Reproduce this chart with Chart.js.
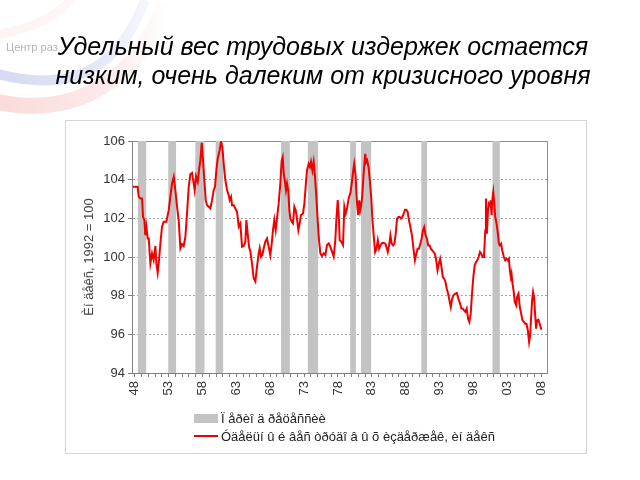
<!DOCTYPE html>
<html><head><meta charset="utf-8">
<script src="https://cdn.jsdelivr.net/npm/chart.js@4.4.1/dist/chart.umd.min.js"></script>
<style>html,body{margin:0;padding:0;background:#fff}canvas{display:block}</style>
</head><body>
<canvas id="c" width="640" height="480"></canvas>
<script>
const titleLines = ['Удельный вес трудовых издержек остается', 'низким, очень далеким от кризисного уровня'];
const logoText = 'Центр раз';
const yAxisTitle = 'Èí äåêñ, 1992 = 100';
const recessionLabel = 'Ï åðèî ä ðåöåññèè';
const seriesLabel = 'Óäåëüí û é âåñ òðóäî â û õ èçäåðæåê, èí äåêñ';
const yMin = 94, yMax = 106, yStep = 2;
const xMin = 1947.6, xMax = 2008.85;
const labelEvery = 5, firstLabelYear = 1948;

const recessionStart = [1948.45, 1952.95, 1956.95, 1959.95, 1969.6, 1973.55, 1979.8, 1981.4, 1990.3, 2000.8];
const recessionEnd   = [1949.7, 1954.1, 1958.3, 1961.05, 1970.9, 1975.05, 1980.65, 1982.9, 1991.15, 2001.9];

const years = [
1947.75,1948.44,1948.59,1948.84,1949.08,1949.23,1949.43,1949.57,1949.72,1949.92,
1950.07,1950.21,1950.31,1950.56,1950.8,1951.05,1951.2,1951.39,1951.59,1951.79,
1952.03,1952.28,1952.67,1953.02,1953.26,1953.51,1953.76,1954.0,1954.25,1954.49,
1954.74,1954.98,1955.23,1955.48,1955.72,1955.97,1956.21,1956.46,1956.71,1956.85,
1957.05,1957.3,1957.49,1957.69,1957.89,1958.08,1958.28,1958.48,1958.67,1958.92,
1959.17,1959.41,1959.66,1959.85,1960.05,1960.25,1960.54,1960.74,1960.94,1961.13,
1961.38,1961.63,1961.87,1962.02,1962.22,1962.36,1962.61,1962.85,1963.1,1963.35,
1963.59,1963.84,1964.08,1964.33,1964.48,1964.67,1964.87,1965.07,1965.31,1965.56,
1965.81,1966.05,1966.3,1966.45,1966.64,1966.84,1967.04,1967.28,1967.53,1967.72,
1968.02,1968.22,1968.41,1968.61,1968.81,1969.0,1969.25,1969.49,1969.69,1969.84,
1969.99,1970.18,1970.33,1970.48,1970.68,1970.82,1970.97,1971.17,1971.36,1971.56,
1971.76,1971.95,1972.15,1972.35,1972.54,1972.84,1973.04,1973.23,1973.43,1973.68,
1973.87,1974.02,1974.22,1974.41,1974.61,1974.81,1975.0,1975.2,1975.4,1975.64,
1975.89,1976.14,1976.38,1976.63,1976.87,1977.12,1977.37,1977.61,1977.76,1977.96,
1978.15,1978.25,1978.5,1978.74,1978.94,1979.14,1979.33,1979.58,
1979.86,1980.06,1980.25,1980.4,1980.6,1980.74,1980.84,1980.99,1981.13,1981.28,
1981.43,1981.57,1981.82,1982.02,1982.16,1982.31,1982.51,1982.7,1982.9,1983.09,
1983.29,1983.48,1983.68,1983.88,1984.07,1984.27,1984.51,1984.76,1985.0,1985.15,
1985.35,1985.54,1985.74,1985.93,1986.13,1986.33,1986.52,1986.72,1986.91,1987.11,
1987.3,1987.5,1987.7,1987.89,1988.09,1988.28,1988.48,1988.68,1988.92,1989.17,
1989.36,1989.56,1989.75,1989.95,1990.15,1990.34,1990.54,1990.73,1990.93,1991.12,
1991.32,1991.52,1991.71,1991.91,1992.1,1992.3,1992.5,1992.69,1992.89,1993.08,
1993.28,1993.47,1993.67,1993.87,1994.06,1994.26,1994.45,1994.65,1994.85,1995.04,
1995.29,1995.53,1995.78,1996.02,1996.22,1996.41,1996.61,1996.8,1997.0,1997.2,
1997.39,1997.59,1997.78,1997.98,1998.18,1998.37,1998.57,1998.76,1998.96,1999.16,
1999.35,1999.55,1999.74,1999.84,1999.99,2000.14,2000.28,2000.43,2000.53,2000.67,
2000.82,2000.92,2001.07,2001.21,2001.41,2001.6,2001.75,2001.9,2002.09,2002.24,
2002.49,2002.68,2002.88,2003.07,2003.22,2003.37,2003.51,2003.61,2003.76,2003.91,
2004.1,2004.3,2004.44,2004.64,2004.84,2005.03,2005.23,2005.43,2005.62,2005.82,
2006.02,2006.21,2006.36,2006.51,2006.65,2006.8,2006.94,2007.09,2007.24,2007.38,
2007.58,2007.77,2007.97,2008.12
];
const laborCost = [
103.63,103.63,103.11,103.03,103.03,102.08,101.91,101.13,101.57,100.96,
100.96,100.19,99.67,100.19,99.85,100.57,99.67,99.19,99.85,100.7,
101.57,101.82,101.82,102.42,103.11,103.8,104.14,103.46,102.6,101.91,
100.45,100.67,100.57,101.05,102.25,103.63,104.28,104.35,103.8,103.46,
104.18,103.89,104.49,105.0,105.9,105.0,103.97,102.94,102.68,102.6,
102.51,102.94,103.46,103.63,104.49,105.09,105.52,105.95,105.69,104.83,
103.97,103.46,103.2,102.94,103.11,102.68,102.68,102.51,102.34,101.57,
101.74,100.53,100.57,100.79,101.91,101.22,100.53,100.28,99.67,98.9,
98.73,99.5,100.19,100.45,100.02,100.1,100.45,100.79,100.96,100.62,
100.1,100.7,101.39,101.91,101.39,101.99,102.77,103.8,105.0,105.17,
104.32,103.89,103.46,103.8,103.37,102.42,101.99,101.82,101.74,102.6,
102.42,101.99,101.39,101.74,102.17,102.25,102.77,103.63,104.49,104.83,
104.66,104.92,104.49,104.92,104.14,103.11,101.91,100.88,100.19,100.05,
100.19,100.1,100.62,100.7,100.53,100.28,100.02,100.88,101.91,102.94,
101.91,100.88,100.79,100.62,102.6,102.25,102.51,103.03,
103.36,103.88,104.48,104.83,104.22,103.19,102.67,102.16,102.93,102.41,
102.67,103.1,104.48,105.34,104.91,105.0,104.66,103.97,103.1,101.9,
101.03,100.26,100.43,100.86,100.43,100.6,100.72,100.72,100.69,100.52,
100.26,100.6,101.12,100.69,100.6,100.69,101.21,101.98,102.07,102.07,
101.98,102.07,102.24,102.45,102.45,102.33,101.9,101.55,101.12,100.34,
99.83,100.17,100.43,100.43,100.69,100.95,101.38,101.55,101.12,100.95,
100.6,100.6,100.43,100.34,100.26,100.17,99.83,99.31,99.66,99.91,
99.48,98.97,98.88,98.71,98.36,98.1,97.76,97.41,97.84,98.02,
98.1,98.14,97.84,97.59,97.33,97.33,97.24,97.16,97.33,96.81,
96.64,97.07,98.1,98.97,99.57,99.74,99.83,100.0,100.26,100.17,
100.0,100.0,101.38,103.02,101.21,102.41,102.76,102.67,102.93,102.16,
103.1,103.36,102.76,102.07,101.72,101.21,100.69,100.6,100.69,100.34,
100.0,99.83,99.91,99.83,99.91,99.31,98.97,99.14,98.62,98.28,
97.67,97.5,97.93,98.1,97.41,97.07,96.72,96.64,96.55,96.55,
96.21,95.6,95.95,96.9,97.76,98.19,97.93,97.07,96.29,96.72,
96.76,96.55,96.29,96.29
];

const FONT = '"Liberation Sans", Arial, sans-serif';

// recession shading as a filled step line built from the start/end arrays
const recessionData = [];
recessionStart.forEach((s, i) => {
  recessionData.push({x: s, y: yMin}, {x: s, y: yMax}, {x: recessionEnd[i], y: yMax}, {x: recessionEnd[i], y: yMin});
});
const lineData = years.map((x, i) => ({x, y: laborCost[i]}));

const decorPlugin = {
  id: 'decor',
  beforeDraw(chart) {
    const ctx = chart.ctx;
    ctx.save();
    ctx.fillStyle = '#fff';
    ctx.fillRect(0, 0, chart.width, chart.height);
    // faint logo swooshes
    const fade = (r, g, b, a) => {
      const gr = ctx.createLinearGradient(0, 0, 170, 0);
      gr.addColorStop(0, `rgba(${r},${g},${b},${a})`);
      gr.addColorStop(0.6, `rgba(${r},${g},${b},${a * 0.6})`);
      gr.addColorStop(1, `rgba(${r},${g},${b},0)`);
      return gr;
    };
    ctx.lineCap = 'butt';
    ctx.lineWidth = 16;
    ctx.strokeStyle = fade(235, 90, 90, 0.22);
    ctx.beginPath(); ctx.moveTo(-10, 100); ctx.bezierCurveTo(60, 118, 130, 95, 165, 5); ctx.stroke();
    ctx.lineWidth = 10;
    ctx.strokeStyle = fade(80, 100, 200, 0.24);
    ctx.beginPath(); ctx.moveTo(-10, 72); ctx.bezierCurveTo(60, 92, 115, 80, 145, 0); ctx.stroke();
    ctx.lineWidth = 9;
    ctx.strokeStyle = fade(235, 110, 110, 0.08);
    ctx.beginPath(); ctx.moveTo(-5, 35); ctx.bezierCurveTo(30, 30, 60, 15, 75, -5); ctx.stroke();
    ctx.fillStyle = '#b4b4b4';
    ctx.font = '11px ' + FONT;
    ctx.textBaseline = 'middle';
    ctx.fillText(logoText, 6, 48);
    // outer chart frame
    ctx.strokeStyle = '#d4d4d4';
    ctx.lineWidth = 1;
    ctx.strokeRect(65.5, 120.5, 521, 333);
    ctx.restore();
  },
  beforeDatasetsDraw(chart) {
    const {ctx, chartArea: a} = chart;
    ctx.save();
    ctx.strokeStyle = '#8c8c8c';
    ctx.lineWidth = 1;
    ctx.beginPath();
    ctx.moveTo(a.left, Math.round(a.top) + 0.5);
    ctx.lineTo(Math.round(a.right) + 0.5, Math.round(a.top) + 0.5);
    ctx.lineTo(Math.round(a.right) + 0.5, a.bottom);
    ctx.stroke();
    ctx.restore();
  },
  afterDraw(chart) {
    const ctx = chart.ctx;
    const ds = chart.data.datasets;
    ctx.save();
    ctx.font = '13px ' + FONT;
    ctx.textBaseline = 'middle';
    ctx.fillStyle = ds[1].backgroundColor;
    ctx.fillRect(194, 414, 24, 9);
    ctx.strokeStyle = ds[0].borderColor;
    ctx.lineWidth = 2;
    ctx.beginPath(); ctx.moveTo(194, 436); ctx.lineTo(218, 436); ctx.stroke();
    ctx.fillStyle = '#222';
    ctx.fillText(ds[1].label, 221, 419);
    ctx.fillText(ds[0].label, 221, 437);
    ctx.restore();
  }
};

new Chart(document.getElementById('c'), {
  type: 'line',
  data: {
    datasets: [
      {label: seriesLabel, data: lineData, borderColor: '#f00000', borderWidth: 2, pointRadius: 0, tension: 0, fill: false, order: 0},
      {label: recessionLabel, data: recessionData, borderWidth: 0, borderColor: 'rgba(0,0,0,0)', backgroundColor: '#c3c3c3', pointRadius: 0, tension: 0, fill: 'start', order: 1}
    ]
  },
  options: {
    responsive: false,
    animation: false,
    devicePixelRatio: 1,
    layout: {padding: {left: 6, right: 0, top: 0, bottom: 77}},
    plugins: {
      legend: {display: false},
      tooltip: {enabled: false},
      title: {
        display: true, text: titleLines, color: '#000',
        font: {family: FONT, size: 25, style: 'italic', weight: 'normal', lineHeight: 1.15},
        padding: {top: 33.6, bottom: 49.9}
      }
    },
    scales: {
      x: {
        type: 'linear', min: xMin, max: xMax,
        ticks: {
          stepSize: 1, includeBounds: false, autoSkip: false, maxRotation: 90, minRotation: 90,
          color: '#333', font: {family: FONT, size: 13}, padding: 4,
          callback: v => ((Math.round(v) - firstLabelYear) % labelEvery === 0) ? String(Math.round(v) % 100).padStart(2, '0') : ''
        },
        grid: {drawOnChartArea: false, drawTicks: true, tickLength: 4, tickColor: '#808080'},
        border: {display: true, color: '#808080'},
        afterFit: s => { s.height = 30; }
      },
      y: {
        min: yMin, max: yMax,
        ticks: {stepSize: yStep, color: '#333', font: {family: FONT, size: 13}, padding: 3},
        grid: {
          color: c => (c.tick && (c.tick.value === yMin || c.tick.value === yMax)) ? 'rgba(0,0,0,0)' : '#a6a6a6',
          tickLength: 4, tickColor: '#808080'
        },
        border: {display: true, color: '#808080', dash: [2, 2]},
        title: {display: true, text: yAxisTitle, color: '#444', font: {family: FONT, size: 13}, padding: {top: 76, bottom: 0}},
        afterFit: s => { s.width = 126; }
      },
      yR: {
        position: 'right', display: true,
        ticks: {display: false}, grid: {display: false}, border: {display: false},
        afterFit: s => { s.width = 93; }
      }
    }
  },
  plugins: [decorPlugin]
});
</script>
</body></html>
